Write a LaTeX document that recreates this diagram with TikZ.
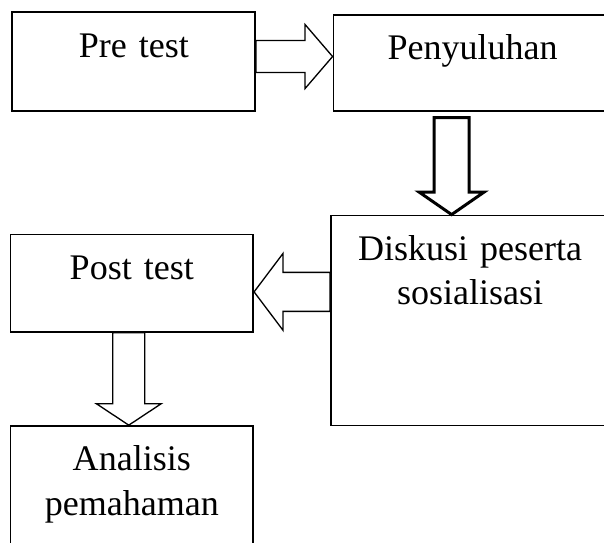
\documentclass[tikz,border=0pt]{standalone}
\usepackage{fontspec}
\setmainfont{Liberation Serif}
\usetikzlibrary{positioning,calc}

\begin{document}
\begin{tikzpicture}[
    box/.style={rectangle, draw, line width=0.9pt, inner sep=0pt, text width=4.86cm, align=center, text height=0.9cm, font=\fontsize{20.5pt}{25.3pt}\selectfont},
    wide/.style={box, text width=5.57cm},
    fat/.style n args={3}{line width=0.75pt, line join=miter, to path={
        ($(\tikztostart)!#1!90:(\tikztotarget)$)
        -- ($(\tikztotarget)!#3!(\tikztostart)!#1!-90:(\tikztostart)$)
        -- ($(\tikztotarget)!#3!(\tikztostart)!#2!-90:(\tikztostart)$)
        -- (\tikztotarget)
        -- ($(\tikztotarget)!#3!(\tikztostart)!#2!90:(\tikztostart)$)
        -- ($(\tikztotarget)!#3!(\tikztostart)!#1!90:(\tikztostart)$)
        -- ($(\tikztostart)!#1!-90:(\tikztotarget)$)
        -- cycle}}
]
    \useasboundingbox (0,0) rectangle (12.08,-10.86);
    \clip (0,0) rectangle (12.08,-10.86);

    % Pre test
    \node[box, text depth=1.07cm, anchor=north west] (pre) at (0.23,-0.23) {Pre test};

    % Penyuluhan
    \node[wide, text depth=1.02cm, below right=0.05cm and 1.53cm of pre.north east] (penyuluhan) {Penyuluhan};

    % Diskusi
    \node[wide, text depth=3.3cm, below right=2.06cm and -0.05cm of penyuluhan.south west] (diskusi) {Diskusi peserta\\sosialisasi};

    % Post test
    \node[box, text depth=1.05cm, below right=2.44cm and -0.04cm of pre.south west] (post) {Post test};

    % Analisis
    \node[box, text depth=2cm, below right=1.85cm and 0cm of post.south west] (analisis) {Analisis\\pemahaman};

    % Arrows
    \draw[fat={0.32cm}{0.64cm}{0.55cm}] ([yshift=0.1cm]pre.east) to ([yshift=0.1cm]pre.east -| penyuluhan.west);
    \draw[fat={0.35cm}{0.65cm}{0.45cm}, line width=1.7pt] ([xshift=-0.42cm,yshift=-0.12cm]penyuluhan.south) to ([xshift=-0.42cm]penyuluhan.south |- diskusi.north);
    \draw[fat={0.39cm}{0.77cm}{0.58cm}] ([yshift=0.57cm]diskusi.west) to ([yshift=0.57cm]diskusi.west -| post.east);
    \draw[fat={0.32cm}{0.65cm}{0.43cm}] ([xshift=-0.06cm]post.south) to ([xshift=-0.06cm]post.south |- analisis.north);
\end{tikzpicture}
\end{document}
